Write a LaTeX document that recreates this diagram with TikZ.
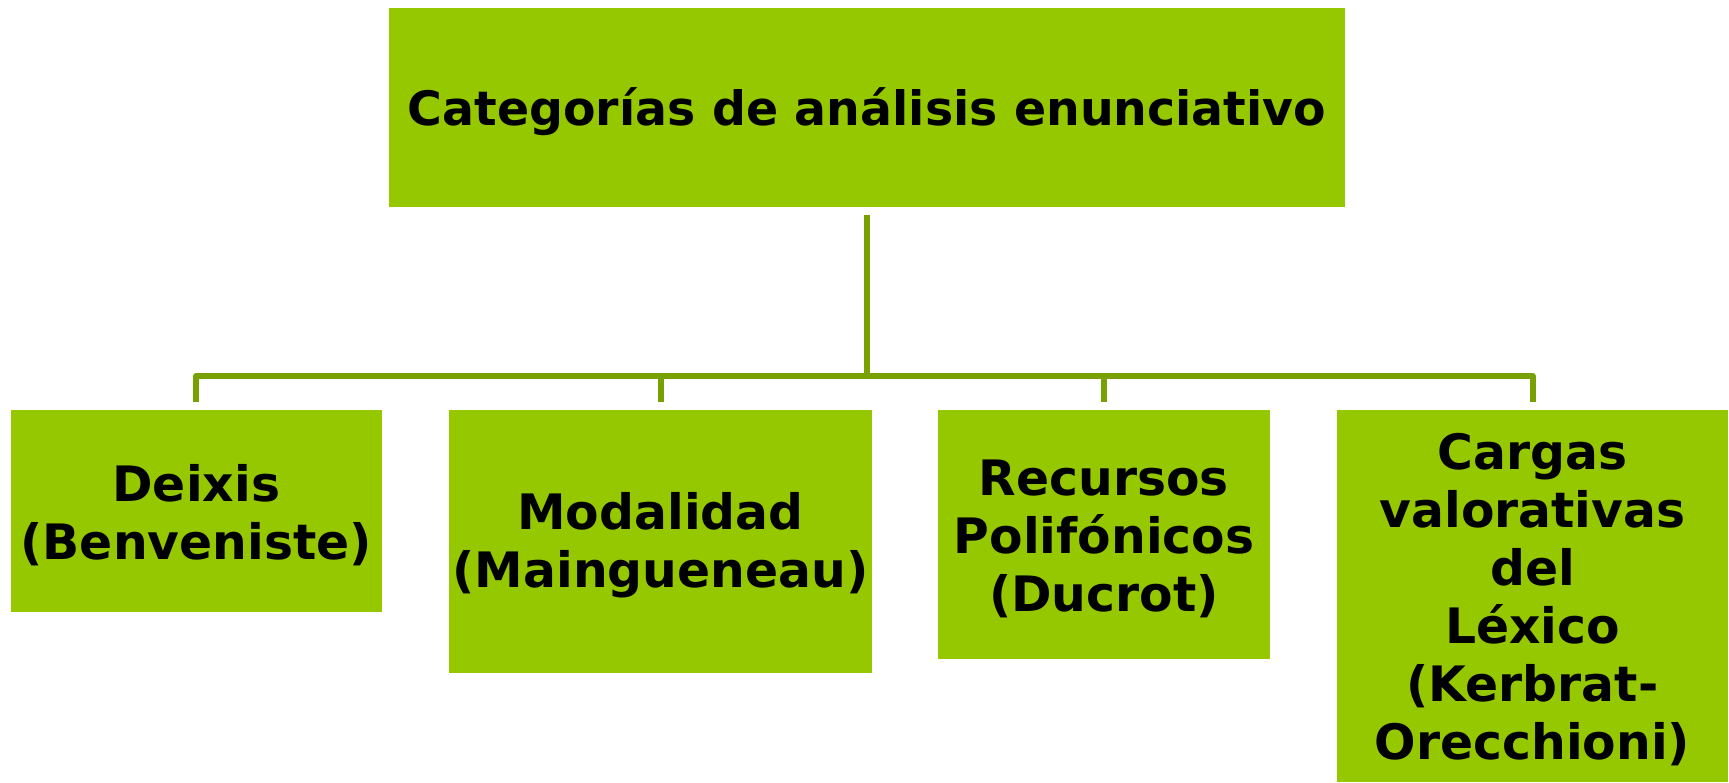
\documentclass[tikz,border=0pt]{standalone}
\usepackage{fontspec}
\setmainfont{DejaVu Sans}
\definecolor{boxgreen}{RGB}{150,200,0}
\definecolor{linegreen}{RGB}{120,160,0}
\begin{document}
\begin{tikzpicture}[x=0.5pt,y=-0.5pt,
  box/.style={fill=boxgreen, draw=none, inner sep=0pt},
  boxtext/.style={align=center, inner sep=0pt,
    font=\bfseries\fontsize{24.4}{29}\selectfont},
  conn/.style={draw=linegreen, line width=3pt, line join=round}]
\useasboundingbox (0,0) rectangle (1729,782);
\node[box, minimum width=478pt, minimum height=99.5pt] (top) at (867,107.4) {};
\node[box, minimum width=185.25pt, minimum height=101pt] (deixis) at (196.25,511) {};
\node[box, minimum width=211.5pt, minimum height=131.5pt] (modal) at (660.5,541.5) {};
\node[box, minimum width=166pt, minimum height=124.5pt] (recursos) at (1104,534.5) {};
\node[box, minimum width=195.5pt, minimum height=186pt] (cargas) at (1532.5,596) {};
\node[boxtext, font=\bfseries\fontsize{23.7}{29}\selectfont] (top-t)
  at ([yshift=-2.2pt]top.center) {Categorías de análisis enunciativo};
\node[boxtext] (deixis-t) at ([yshift=-2pt]deixis.center) {Deixis\\(Benveniste)};
\node[boxtext] (modal-t) at ([yshift=-2pt]modal.center) {Modalidad\\(Maingueneau)};
\node[boxtext] (recursos-t) at ([yshift=-2pt]recursos.center) {Recursos\\Polifónicos\\(Ducrot)};
\node[boxtext] (cargas-t) at ([yshift=-2pt]cargas.center)
  {Cargas\\valorativas\\del\\Léxico\\(Kerbrat-\\Orecchioni)};
\coordinate (bus) at (867,376);
\draw[conn] ([yshift=-4pt]top.south) -- (bus);
\draw[conn] ([yshift=3.75pt]deixis.north) |- (bus) -| ([yshift=3.75pt]cargas.north);
\draw[conn] ([yshift=3.75pt]modal.north) -- (modal.north |- bus);
\draw[conn] ([yshift=3.75pt]recursos.north) -- (recursos.north |- bus);
\end{tikzpicture}
\end{document}
